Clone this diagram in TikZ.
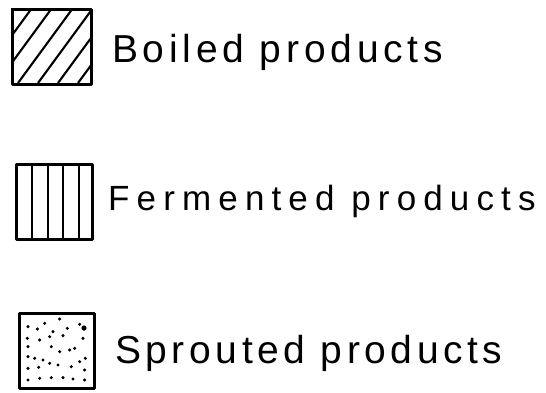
\documentclass[tikz,border=0pt]{standalone}
\usepackage{fontspec}
\newfontfamily\lblA[LetterSpace=12.2]{Liberation Sans}
\newfontfamily\lblB[LetterSpace=20.4]{Liberation Sans}
\newfontfamily\lblC[LetterSpace=11.7]{Liberation Sans}
\begin{document}
\begin{tikzpicture}[x=1pt,y=-1pt,
  keybox/.style={draw=black,line width=2.8pt,line join=round},
  hatch/.style={draw=black,line width=2.1pt},
  dotmark/.style={fill=black},
  lbl/.style={anchor=base west,inner sep=0pt,text=black}]
\useasboundingbox (0,0) rectangle (546,392);
% --- Boiled (diagonal hatch) ---
\coordinate (b1) at (11,8);
\coordinate (b2) at (90,83);
\begin{scope}
  \clip (b1) rectangle (b2);
  \foreach \x in {-43,-23,-3,18,38,58,78}{
    \draw[hatch] (\x,83) -- ++(55,-75);
  }
\end{scope}
\node[keybox,draw,minimum width=79pt,minimum height=75pt,inner sep=0pt,anchor=north west] (boxA) at (b1) {};
\node[lbl,font=\lblA\fontsize{39}{44}\selectfont] (txtA) at (112,62) {Boiled products};
% --- Fermented (vertical lines) ---
\node[keybox,minimum width=76pt,minimum height=75pt,inner sep=0pt,anchor=north west] (boxB) at (15,163) {};
\foreach \x in {32,48,63,79}{
  \draw[hatch] (\x,163) -- (\x,238);
}
\node[lbl,font=\lblB\fontsize{35}{40}\selectfont] (txtB) at (108,210) {Fermented products};
% --- Sprouted (dots) ---
\node[keybox,minimum width=75pt,minimum height=75pt,inner sep=0pt,anchor=north west] (boxC) at (18,312) {};
\foreach \u/\v in {60/65,88/72,110/55,155/42,135/80,178/70,215/58,228/72,
  58/100,95/105,125/95,165/92,225/100,
  60/125,130/125,155/140,185/135,200/130,
  60/155,80/160,105/165,125/175,150/180,190/185,215/170,232/160,
  60/190,92/187,230/195,
  60/225,95/220,130/218,165/218,195/222,230/225}{
  \fill[dotmark] ({\u/3+8},{\v/3+305}) circle (1.7pt);
}
\fill[dotmark] (84,328) circle (2.6pt);
\node[lbl,font=\lblC\fontsize{39}{44}\selectfont] (txtC) at (115,363) {Sprouted products};
\end{tikzpicture}
\end{document}
